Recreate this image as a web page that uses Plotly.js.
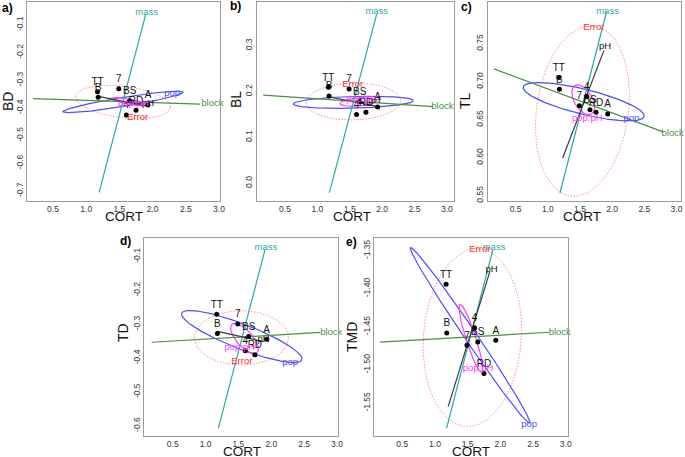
<!DOCTYPE html>
<html><head><meta charset="utf-8">
<script src="https://cdn.plot.ly/plotly-3.0.1.min.js"></script>
<style>body{margin:0;background:#fff}#g{width:685px;height:457px}</style>
</head><body><div id="g"></div>
<script>
// ---- data ----
const groupNames = ["TT","B","7","BS","4","RD","A"];
const cortMeans  = [1.17, 1.18, 1.49, 1.655, 1.605, 1.75, 1.93];
const bdMeans    = [-0.341, -0.361, -0.330, -0.374, -0.425, -0.408, -0.389];
const blMeans    = [0.209, 0.190, 0.2056, 0.178, 0.150, 0.155, 0.166];
const tlMeans    = [0.7057, 0.690, 0.6684, 0.663, 0.681, 0.660, 0.6575];
const tdMeans    = [-0.270, -0.327, -0.299, -0.336, -0.378, -0.390, -0.344];
const tmdMeans   = [-1.394, -1.458, -1.474, -1.4697, -1.451, -1.511, -1.4675];

const panelLetters = ["a)","b)","c)","d)","e)"];
const responseNames = ["BD","BL","TL","TD","TMD"];
const termNames = ["mass","block","pH","pop","Error","pop:pH"];

// HE ellipses: centre x, centre y, half-axis 1 (x,y), half-axis 2 (x,y)
const popEll = [
  [1.556, -0.378, 0.905, 0.0355, 0.011, -0.016],
  [1.556, 0.1765, 0.9275, 0.0035, 0.0, 0.0127],
  [1.557, 0.6737, 0.9395, -0.0195, 0.0456, 0.016],
  [1.551, -0.336, 0.9145, -0.069, 0.0686, 0.0341],
  [1.538, -1.461, 0.911, -0.115, 0.0757, 0.0044]
];
const errEll = [
  [1.553, -0.378, 0.714, -0.018, 0.0, 0.057],
  [1.556, 0.178, 0.731, 0.002, 0.0, 0.040],
  [1.537, 0.6614, 0.186, 0.1118, 0.707, -0.0084],
  [1.545, -0.340, 0.716, 0.0, 0.0, 0.080],
  [1.572, -1.464, 0.102, 0.1164, 0.746, -0.0049]
];
const popPhEll = [
  [1.64, -0.377, 0.263, -0.012, 0.004, 0.009],
  [1.633, 0.177, 0.283, 0.003, 0.0, 0.0087],
  [1.55, 0.6763, 0.129, -0.0187, 0.121, 0.006],
  [1.592, -0.342, 0.19, -0.042, 0.0915, 0.0156],
  [1.55, -1.465, 0.165, -0.0445, 0.072, 0.002]
];
// 1-df terms drawn as lines: x1, y1, x2, y2
const massLine = [
  [1.194, -0.705, 1.898, -0.060],
  [1.185, -0.0205, 1.917, 0.369],
  [1.188, 0.5535, 1.913, 0.7925],
  [1.195, -0.607, 1.907, -0.0773],
  [1.178, -1.5828, 1.889, -1.3478]
];
const blockLine = [
  [0.198, -0.366, 2.713, -0.386],
  [0.165, 0.192, 2.79, 0.167],
  [0.163, 0.717, 2.792, 0.634],
  [0.18, -0.353, 2.745, -0.324],
  [0.159, -1.470, 2.744, -1.457]
];
const phLine = [
  [1.20, -0.359, 1.90, -0.392],
  [1.19, 0.188, 1.90, 0.168],
  [1.23, 0.5996, 1.871, 0.741],
  [1.18, -0.321, 1.881, -0.351],
  [1.202, -1.5545, 1.839, -1.3775]
];
// term label anchor points per panel: mass, block, pH, pop, Error, pop:pH
const termLabelX = [
  [1.91, 2.90, 1.93, 2.295, 1.773, 1.71],
  [1.917, 2.93, 1.88, null, 1.546, 1.685],
  [1.928, 2.94, 1.89, 2.30, 1.716, 1.612],
  [1.918, 2.913, 1.881, 2.288, 1.552, 1.52],
  [1.904, 2.908, 1.865, 2.44, 1.686, 1.66]
];
const termLabelY = [
  [-0.054, -0.383, -0.385, -0.348, -0.435, -0.383],
  [0.373, 0.167, 0.18, null, 0.214, 0.183],
  [0.7917, 0.632, 0.746, 0.6513, 0.7715, 0.652],
  [-0.072, -0.326, -0.346, -0.412, -0.41, -0.370],
  [-1.3455, -1.458, -1.375, -1.578, -1.348, -1.505]
];

const xTickVals = [0.5, 1.0, 1.5, 2.0, 2.5, 3.0];
const xTickText = ["0.5","1.0","1.5","2.0","2.5","3.0"];
const yTickVals = [
  [-0.7,-0.6,-0.5,-0.4,-0.3,-0.2,-0.1],
  [0.0,0.1,0.2,0.3],
  [0.55,0.60,0.65,0.70,0.75,0.80],
  [-0.6,-0.5,-0.4,-0.3,-0.2,-0.1],
  [-1.55,-1.50,-1.45,-1.40,-1.35]
];
const yTickText = [
  ["-0.7","-0.6","-0.5","-0.4","-0.3","-0.2","-0.1"],
  ["0.0","0.1","0.2","0.3"],
  ["0.55","0.60","0.65","0.70","0.75","0.80"],
  ["-0.6","-0.5","-0.4","-0.3","-0.2","-0.1"],
  ["-1.55","-1.50","-1.45","-1.40","-1.35"]
];
const xRanges = [[0.108,3.015],[0.063,3.11],[0.065,3.07],[0.067,3.02],[0.068,3.03]];
const yRanges = [[-0.736,-0.017],[-0.0386,0.395],[0.543,0.805],[-0.630,-0.044],[-1.593,-1.333]];

// ---- layout geometry (pixels in a 685x457 canvas) ----
const W = 685, H = 457;
const boxes = [ // left, right, top, bottom
  [27, 220, 2, 201],
  [256.7, 454, 2, 201],
  [487.7, 681, 2, 201],
  [144.3, 338.3, 237.7, 436],
  [374, 567.7, 237.7, 436]
];
const letterPos = [[7,8],[235,6],[466,7],[126,241],[351,242]];
const yTitlePos = [[8,101],[236,100],[465,100],[123,333],[352,337]];
const xTitlePos = [[124,216.5],[352,216.5],[582,216.5],[242,451],[471,451]];

const FONT = 'Liberation Sans, Arial, sans-serif';
const COL = {mass:'#2aa9a9', block:'#4a8f3f', pH:'#3a3a3a', pop:'#4d4dff', err:'#ff8f8f', errText:'#ff2a2a', pp:'#ff3cff'};

function ellipse(p){
  const xs=[], ys=[];
  for(let i=0;i<=160;i++){
    const t = 2*Math.PI*i/160;
    xs.push(p[0] + p[2]*Math.cos(t) + p[4]*Math.sin(t));
    ys.push(p[1] + p[3]*Math.cos(t) + p[5]*Math.sin(t));
  }
  return {x:xs, y:ys};
}

const respMeans = [bdMeans, blMeans, tlMeans, tdMeans, tmdMeans];
const traces = [];
const layout = {
  width: W, height: H, margin:{l:0,r:0,t:0,b:0},
  paper_bgcolor:'#fff', plot_bgcolor:'#fff', showlegend:false,
  font:{family:FONT, color:'#222'}, annotations:[]
};

for(let k=0;k<5;k++){
  const sx = k===0 ? '' : String(k+1);
  const xa = 'x'+sx, ya = 'y'+sx;
  const b = boxes[k];
  layout['xaxis'+sx] = {
    domain:[b[0]/W, b[1]/W], range:xRanges[k], anchor:ya,
    tickmode:'array', tickvals:xTickVals, ticktext:xTickText,
    ticks:'', tickfont:{size:8.5, color:'#333'},
    showline:true, mirror:true, linecolor:'#9a9a9a', linewidth:1,
    showgrid:false, zeroline:false
  };
  layout['yaxis'+sx] = {
    domain:[1-b[3]/H, 1-b[2]/H], range:yRanges[k], anchor:xa,
    tickmode:'array', tickvals:yTickVals[k], ticktext:yTickText[k], tickangle:-90,
    ticks:'', tickfont:{size:8.5, color:'#333'},
    showline:true, mirror:true, linecolor:'#9a9a9a', linewidth:1,
    showgrid:false, zeroline:false
  };
  const e1 = ellipse(errEll[k]);
  traces.push({type:'scatter', mode:'lines', x:e1.x, y:e1.y, xaxis:xa, yaxis:ya,
    line:{color:COL.err, width:1, dash:'1.5px,1.5px'}, hoverinfo:'skip'});
  const e2 = ellipse(popEll[k]);
  traces.push({type:'scatter', mode:'lines', x:e2.x, y:e2.y, xaxis:xa, yaxis:ya,
    line:{color:COL.pop, width:1.2}, hoverinfo:'skip'});
  const e3 = ellipse(popPhEll[k]);
  traces.push({type:'scatter', mode:'lines', x:e3.x, y:e3.y, xaxis:xa, yaxis:ya,
    line:{color:COL.pp, width:1.2}, hoverinfo:'skip'});
  const lines = [[massLine[k], COL.mass],[blockLine[k], COL.block],[phLine[k], COL.pH]];
  lines.forEach(([L,c])=>{
    traces.push({type:'scatter', mode:'lines', x:[L[0],L[2]], y:[L[1],L[3]], xaxis:xa, yaxis:ya,
      line:{color:c, width:1.2}, hoverinfo:'skip'});
  });
  traces.push({type:'scatter', mode:'markers+text', x:cortMeans, y:respMeans[k], xaxis:xa, yaxis:ya,
    text:groupNames, textposition:'top center', textfont:{size:10, color:'#111', family:FONT},
    marker:{color:'#000', size:5}, cliponaxis:false, hoverinfo:'skip'});
  const labCols = [COL.mass, COL.block, '#111', COL.pop, COL.errText, COL.pp];
  for(let j=0;j<termNames.length;j++){
    if(termLabelX[k][j]===null) continue;
    traces.push({type:'scatter', mode:'text', x:[termLabelX[k][j]], y:[termLabelY[k][j]], xaxis:xa, yaxis:ya,
      text:[termNames[j]], textposition:'middle center', textfont:{size:9.5, color:labCols[j], family:FONT},
      cliponaxis:false, hoverinfo:'skip'});
  }
  layout.annotations.push({xref:'paper', yref:'paper', x:letterPos[k][0]/W, y:1-letterPos[k][1]/H,
    text:'<b>'+panelLetters[k]+'</b>', showarrow:false, font:{size:12, color:'#000'}, xanchor:'center', yanchor:'middle'});
  layout.annotations.push({xref:'paper', yref:'paper', x:yTitlePos[k][0]/W, y:1-yTitlePos[k][1]/H,
    text:responseNames[k], textangle:-90, showarrow:false, font:{size:14, color:'#111'}, xanchor:'center', yanchor:'middle'});
  layout.annotations.push({xref:'paper', yref:'paper', x:xTitlePos[k][0]/W, y:1-xTitlePos[k][1]/H,
    text:'CORT', showarrow:false, font:{size:13.5, color:'#111'}, xanchor:'center', yanchor:'middle', borderpad:0});
}

Plotly.newPlot('g', traces, layout, {staticPlot:true, displayModeBar:false});
</script></body></html>
